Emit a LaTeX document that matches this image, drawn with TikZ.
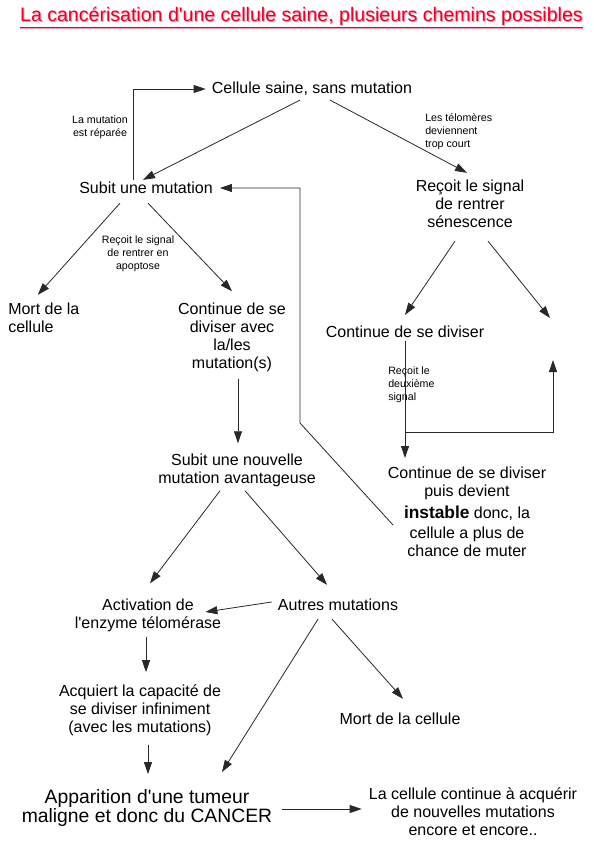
\documentclass[tikz,border=0pt]{standalone}
\usepackage{fontspec}
\setmainfont{Liberation Sans}
\usetikzlibrary{arrows.meta}
\definecolor{titlered}{RGB}{235,0,40}
\definecolor{titleshadow}{RGB}{255,150,170}
\definecolor{linegray}{RGB}{40,40,40}
\newcommand{\ap}{\textquotesingle}
\begin{document}
\begin{tikzpicture}[x=0.75pt,y=-0.75pt,
 txt/.style={inner sep=0pt, align=center, font=\fontsize{12}{13.5}\selectfont},
 lbl/.style={inner sep=0pt, align=center, font=\fontsize{8}{9.75}\selectfont},
 big/.style={inner sep=0pt, align=center, font=\fontsize{14.5}{14.5}\selectfont},
 arr/.style={draw=linegray, line width=0.6pt, -{Triangle[length=9pt,width=6pt]}},
 ln/.style={draw=linegray, line width=0.6pt}]
\useasboundingbox[fill=white] (0,0) rectangle (593,843);
% title
\newcommand{\titletext}{\resizebox{422pt}{!}{\fontsize{13}{13}\selectfont La cancérisation d\ap une cellule saine, plusieurs chemins possibles}}
\node[inner sep=0pt, text=titleshadow] (titleshadow) at (302.5,17) {\titletext};
\node[inner sep=0pt, text=titlered] (title) at (301.5,16) {\titletext};
\draw[titleshadow, line width=1pt] (20,28.5) -- (583,28.5);
\draw[titlered, line width=1.1pt] (20,27.5) -- (583,27.5);
% nodes
\node[txt] (saine) at (312,89) {Cellule saine, sans mutation};
\node[txt] (subit) at (146,188) {Subit une mutation};
\node[txt] (senes) at (470,204) {Reçoit le signal\\de rentrer\\sénescence};
\node[txt, align=left, anchor=west] (mort1) at (8,318) {Mort de la\\cellule};
\node[txt] (cont1) at (232,337) {Continue de se\\diviser avec\\la/les\\mutation(s)};
\node[txt] (nouv) at (237,470) {Subit une nouvelle\\mutation avantageuse};
\node[txt] (activ) at (148,615) {Activation de\\l\ap enzyme télomérase};
\node[txt] (autres) at (338,605) {Autres mutations};
\node[txt] (acq) at (140,710) {Acquiert la capacité de\\se diviser infiniment\\(avec les mutations)};
\node[txt] (mort2) at (400,719) {Mort de la cellule};
\node[big] (tumeur) at (147,808) {Apparition d\ap une tumeur\\maligne et donc du CANCER};
\node[txt] (encore) at (473,812) {La cellule continue à acquérir\\de nouvelles mutations\\encore et encore..};
\node[txt] (div) at (405,332) {Continue de se diviser};
\node[txt, anchor=north] (inst) at (467,467) {Continue de se diviser\\puis devient\\[3pt]{\fontsize{13}{15}\selectfont\bfseries instable} donc, la\\[1pt]cellule a plus de\\chance de muter};
% labels
\node[lbl] (repar) at (100,127) {La mutation\\est réparée};
\node[lbl, align=left, anchor=west] (telo) at (425,132) {Les télomères\\deviennent\\trop court};
\node[lbl] (apop) at (138,254) {Reçoit le signal\\de rentrer en\\apoptose};
\node[lbl, align=left, anchor=west] (deux) at (388,385) {Reçoit le\\deuxième\\signal};
% free ends
\coordinate (void1) at (550,318);
\coordinate (void2) at (553,360);
\coordinate (fork) at (405,432);
% connectors
\draw[arr] ([shift={(-13,-2)}]subit.north) |- ([shift={(-6,0)}]saine.west);
\draw[arr] ([shift={(-12,4)}]saine.south) -- ([shift={(-3,-2)}]subit.north);
\draw[arr] ([shift={(18,4)}]saine.south) -- ([shift={(-3,-7)}]senes.north);
\draw[arr] ([shift={(-26,9)}]subit.south) -- ([shift={(-6,-8)}]mort1.north);
\draw[arr] ([shift={(2,9)}]subit.south) -- ([shift={(0,-11)}]cont1.north);
\draw[arr] ([shift={(6,7)}]cont1.south) -- ([shift={(1,-10)}]nouv.north);
\draw[arr] ([shift={(-17,4)}]nouv.south) -- ([shift={(2,-15)}]activ.north);
\draw[arr] ([shift={(8,4)}]nouv.south) -- ([shift={(-11,-14)}]autres.north);
\draw[arr] ([shift={(-6,-3)}]autres.west) -- ([shift={(-16,-3)}]activ.east);
\draw[arr] ([shift={(-2,5)}]activ.south) -- ([shift={(6,-12)}]acq.north);
\draw[arr] ([shift={(8,9)}]acq.south) -- ([shift={(1,-15)}]tumeur.north);
\draw[arr] ([shift={(-20,8)}]autres.south) -- ([shift={(75,-17)}]tumeur.north);
\draw[arr] ([shift={(-6,8)}]autres.south) -- ([shift={(3,-14)}]mort2.north);
\draw[arr] ([shift={(10,1)}]tumeur.east) -- ([shift={(-7,-3)}]encore.west);
\draw[arr] ([shift={(-15,13)}]senes.south) -- ([shift={(0,-11)}]div.north);
\draw[arr] ([shift={(18,13)}]senes.south) -- (void1);
\draw[arr] ([shift={(0,3)}]div.south) -- ([shift={(-62,-9)}]inst.north);
\draw[arr] (fork) -| (void2);
\draw[arr] ([shift={(-74,58)}]inst.north) -- (300,423) -- (300,188) -- ([shift={(7,0)}]subit.east);
\end{tikzpicture}
\end{document}
